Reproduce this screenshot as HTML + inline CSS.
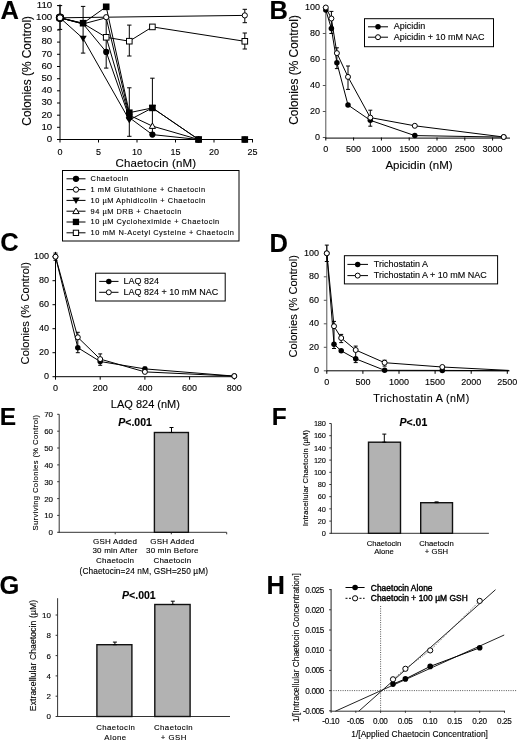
<!DOCTYPE html>
<html><head><meta charset="utf-8"><style>
html,body{margin:0;padding:0;background:#fff;width:520px;height:742px;overflow:hidden}
svg{display:block;filter:blur(0.3px)}
text{font-family:"Liberation Sans", sans-serif;stroke:#000;stroke-width:0.12px;paint-order:stroke}
</style></head><body>
<svg width="520" height="742" viewBox="0 0 520 742" font-family='"Liberation Sans", sans-serif'>
<rect width="520" height="742" fill="#fff"/>
<text x="0.4" y="18.6" font-size="25.5" text-anchor="start" font-weight="bold" stroke-width="0" >A</text>
<line x1="60.0" y1="4.4" x2="60.0" y2="140.0" stroke="#000" stroke-width="1" />
<line x1="59.5" y1="139.5" x2="253.0" y2="139.5" stroke="#000" stroke-width="1" />
<line x1="57.0" y1="139.5" x2="60.0" y2="139.5" stroke="#000" stroke-width="1" />
<text x="52.2" y="141.8" font-size="9.7" text-anchor="end" >0</text>
<line x1="57.0" y1="127.3" x2="60.0" y2="127.3" stroke="#000" stroke-width="1" />
<text x="52.2" y="129.6" font-size="9.7" text-anchor="end" >10</text>
<line x1="57.0" y1="115.2" x2="60.0" y2="115.2" stroke="#000" stroke-width="1" />
<text x="52.2" y="117.5" font-size="9.7" text-anchor="end" >20</text>
<line x1="57.0" y1="103.0" x2="60.0" y2="103.0" stroke="#000" stroke-width="1" />
<text x="52.2" y="105.3" font-size="9.7" text-anchor="end" >30</text>
<line x1="57.0" y1="90.8" x2="60.0" y2="90.8" stroke="#000" stroke-width="1" />
<text x="52.2" y="93.1" font-size="9.7" text-anchor="end" >40</text>
<line x1="57.0" y1="78.7" x2="60.0" y2="78.7" stroke="#000" stroke-width="1" />
<text x="52.2" y="81.0" font-size="9.7" text-anchor="end" >50</text>
<line x1="57.0" y1="66.5" x2="60.0" y2="66.5" stroke="#000" stroke-width="1" />
<text x="52.2" y="68.8" font-size="9.7" text-anchor="end" >60</text>
<line x1="57.0" y1="54.3" x2="60.0" y2="54.3" stroke="#000" stroke-width="1" />
<text x="52.2" y="56.6" font-size="9.7" text-anchor="end" >70</text>
<line x1="57.0" y1="42.1" x2="60.0" y2="42.1" stroke="#000" stroke-width="1" />
<text x="52.2" y="44.4" font-size="9.7" text-anchor="end" >80</text>
<line x1="57.0" y1="30.0" x2="60.0" y2="30.0" stroke="#000" stroke-width="1" />
<text x="52.2" y="32.3" font-size="9.7" text-anchor="end" >90</text>
<line x1="57.0" y1="17.8" x2="60.0" y2="17.8" stroke="#000" stroke-width="1" />
<text x="52.2" y="20.1" font-size="9.7" text-anchor="end" >100</text>
<line x1="57.0" y1="5.6" x2="60.0" y2="5.6" stroke="#000" stroke-width="1" />
<text x="52.2" y="7.9" font-size="9.7" text-anchor="end" >110</text>
<line x1="60.0" y1="139.5" x2="60.0" y2="142.5" stroke="#000" stroke-width="1" />
<text x="60.0" y="154.5" font-size="9" text-anchor="middle" >0</text>
<line x1="98.5" y1="139.5" x2="98.5" y2="142.5" stroke="#000" stroke-width="1" />
<text x="98.5" y="154.5" font-size="9" text-anchor="middle" >5</text>
<line x1="137.0" y1="139.5" x2="137.0" y2="142.5" stroke="#000" stroke-width="1" />
<text x="137.0" y="154.5" font-size="9" text-anchor="middle" >10</text>
<line x1="175.5" y1="139.5" x2="175.5" y2="142.5" stroke="#000" stroke-width="1" />
<text x="175.5" y="154.5" font-size="9" text-anchor="middle" >15</text>
<line x1="214.0" y1="139.5" x2="214.0" y2="142.5" stroke="#000" stroke-width="1" />
<text x="214.0" y="154.5" font-size="9" text-anchor="middle" >20</text>
<line x1="252.5" y1="139.5" x2="252.5" y2="142.5" stroke="#000" stroke-width="1" />
<text x="252.5" y="154.5" font-size="9" text-anchor="middle" >25</text>
<text x="155.8" y="166.5" font-size="11.5" text-anchor="middle" letter-spacing="0.15" stroke-width="0" >Chaetocin (nM)</text>
<text x="30.8" y="70.8" font-size="11.9" text-anchor="middle" stroke-width="0" transform="rotate(-90 30.8 70.8)" >Colonies (% Control)</text>
<line x1="60.0" y1="5.6" x2="60.0" y2="29.4" stroke="#000" stroke-width="1" />
<line x1="57.8" y1="5.6" x2="62.2" y2="5.6" stroke="#000" stroke-width="1" />
<line x1="57.8" y1="29.4" x2="62.2" y2="29.4" stroke="#000" stroke-width="1" />
<line x1="83.1" y1="6.4" x2="83.1" y2="53.1" stroke="#000" stroke-width="1" />
<line x1="80.9" y1="6.4" x2="85.3" y2="6.4" stroke="#000" stroke-width="1" />
<line x1="80.9" y1="53.1" x2="85.3" y2="53.1" stroke="#000" stroke-width="1" />
<line x1="106.2" y1="15.4" x2="106.2" y2="68.1" stroke="#000" stroke-width="1" />
<line x1="104.0" y1="15.4" x2="108.4" y2="15.4" stroke="#000" stroke-width="1" />
<line x1="104.0" y1="68.1" x2="108.4" y2="68.1" stroke="#000" stroke-width="1" />
<line x1="129.3" y1="25.1" x2="129.3" y2="56.0" stroke="#000" stroke-width="1" />
<line x1="127.1" y1="25.1" x2="131.5" y2="25.1" stroke="#000" stroke-width="1" />
<line x1="127.1" y1="56.0" x2="131.5" y2="56.0" stroke="#000" stroke-width="1" />
<line x1="129.3" y1="87.8" x2="129.3" y2="136.3" stroke="#000" stroke-width="1" />
<line x1="127.1" y1="87.8" x2="131.5" y2="87.8" stroke="#000" stroke-width="1" />
<line x1="127.1" y1="136.3" x2="131.5" y2="136.3" stroke="#000" stroke-width="1" />
<line x1="152.4" y1="78.2" x2="152.4" y2="134.6" stroke="#000" stroke-width="1" />
<line x1="150.2" y1="78.2" x2="154.6" y2="78.2" stroke="#000" stroke-width="1" />
<line x1="150.2" y1="134.6" x2="154.6" y2="134.6" stroke="#000" stroke-width="1" />
<line x1="244.8" y1="9.3" x2="244.8" y2="22.7" stroke="#000" stroke-width="1" />
<line x1="242.6" y1="9.3" x2="247.0" y2="9.3" stroke="#000" stroke-width="1" />
<line x1="242.6" y1="22.7" x2="247.0" y2="22.7" stroke="#000" stroke-width="1" />
<line x1="244.8" y1="33.0" x2="244.8" y2="49.0" stroke="#000" stroke-width="1" />
<line x1="242.6" y1="33.0" x2="247.0" y2="33.0" stroke="#000" stroke-width="1" />
<line x1="242.6" y1="49.0" x2="247.0" y2="49.0" stroke="#000" stroke-width="1" />
<polyline points="60.0,17.8 83.1,23.9 106.2,51.9 129.3,117.6 152.4,134.6 198.6,139.5 244.8,139.5" fill="none" stroke="#000" stroke-width="1" stroke-linejoin="round" />
<polyline points="60.0,17.8 106.2,17.2 244.8,15.4" fill="none" stroke="#000" stroke-width="1" stroke-linejoin="round" />
<polyline points="60.0,17.8 83.1,38.5 129.3,120.0 152.4,107.9 198.6,139.5" fill="none" stroke="#000" stroke-width="1" stroke-linejoin="round" />
<polyline points="60.0,17.8 83.1,23.9 106.2,17.8 129.3,115.2 152.4,126.1 198.6,139.5" fill="none" stroke="#000" stroke-width="1" stroke-linejoin="round" />
<polyline points="60.0,17.8 83.1,23.2 106.2,6.8 129.3,112.7 152.4,107.9 198.6,139.5 244.8,139.5" fill="none" stroke="#000" stroke-width="1" stroke-linejoin="round" />
<polyline points="60.0,17.8 83.1,23.5 106.2,37.3 129.3,41.2 152.4,26.9 244.8,41.3" fill="none" stroke="#000" stroke-width="1" stroke-linejoin="round" />
<line x1="106.2" y1="37.3" x2="129.3" y2="116.4" stroke="#000" stroke-width="1" />
<circle cx="129.3" cy="114.6" r="3.10" fill="#000"/>
<circle cx="60.0" cy="17.8" r="4.10" fill="#000"/>
<circle cx="106.2" cy="51.9" r="3.10" fill="#000"/>
<circle cx="129.3" cy="117.6" r="3.10" fill="#000"/>
<circle cx="152.4" cy="134.6" r="3.10" fill="#000"/>
<circle cx="198.6" cy="139.5" r="3.10" fill="#000"/>
<circle cx="244.8" cy="139.5" r="3.10" fill="#000"/>
<circle cx="60.0" cy="17.8" r="3.20" fill="#fff" stroke="#000" stroke-width="1"/>
<circle cx="106.2" cy="17.2" r="2.60" fill="#fff" stroke="#000" stroke-width="1"/>
<circle cx="244.8" cy="15.4" r="2.60" fill="#fff" stroke="#000" stroke-width="1"/>
<path d="M56.4,15.0L63.6,15.0L60.0,21.2Z" fill="#000"/>
<path d="M79.5,35.7L86.7,35.7L83.1,41.9Z" fill="#000"/>
<path d="M125.7,117.2L132.9,117.2L129.3,123.4Z" fill="#000"/>
<path d="M148.8,105.1L156.0,105.1L152.4,111.3Z" fill="#000"/>
<path d="M195.0,136.7L202.2,136.7L198.6,142.9Z" fill="#000"/>
<path d="M56.9,20.1L63.1,20.1L60.0,14.7Z" fill="#fff" stroke="#000" stroke-width="1"/>
<path d="M149.3,128.4L155.5,128.4L152.4,123.0Z" fill="#fff" stroke="#000" stroke-width="1"/>
<path d="M195.5,141.8L201.7,141.8L198.6,136.4Z" fill="#fff" stroke="#000" stroke-width="1"/>
<rect x="56.7" y="14.5" width="6.6" height="6.6" fill="#000"/>
<rect x="79.8" y="19.9" width="6.6" height="6.6" fill="#000"/>
<rect x="102.9" y="3.5" width="6.6" height="6.6" fill="#000"/>
<rect x="126.0" y="109.4" width="6.6" height="6.6" fill="#000"/>
<rect x="149.1" y="104.6" width="6.6" height="6.6" fill="#000"/>
<rect x="195.3" y="136.2" width="6.6" height="6.6" fill="#000"/>
<rect x="241.5" y="136.2" width="6.6" height="6.6" fill="#000"/>
<rect x="103.4" y="34.5" width="5.6" height="5.6" fill="#fff" stroke="#000" stroke-width="1"/>
<rect x="126.5" y="38.4" width="5.6" height="5.6" fill="#fff" stroke="#000" stroke-width="1"/>
<rect x="149.6" y="24.1" width="5.6" height="5.6" fill="#fff" stroke="#000" stroke-width="1"/>
<rect x="242.0" y="38.5" width="5.6" height="5.6" fill="#fff" stroke="#000" stroke-width="1"/>
<circle cx="60.0" cy="17.8" r="4.20" fill="#000"/>
<circle cx="60.0" cy="17.8" r="3.00" fill="#fff" stroke="#000" stroke-width="1"/>
<rect x="62.5" y="170.5" width="176.5" height="70.5" fill="none" stroke="#000" stroke-width="1"/>
<line x1="66.5" y1="178.8" x2="85.5" y2="178.8" stroke="#000" stroke-width="1" />
<circle cx="76.0" cy="178.8" r="3.15" fill="#000"/>
<text x="90.5" y="181.1" font-size="7.4" text-anchor="start" letter-spacing="0.54" >Chaetocin</text>
<line x1="66.5" y1="189.6" x2="85.5" y2="189.6" stroke="#000" stroke-width="1" />
<circle cx="76.0" cy="189.6" r="2.65" fill="#fff" stroke="#000" stroke-width="1"/>
<text x="90.5" y="191.9" font-size="7.4" text-anchor="start" letter-spacing="0.54" >1 mM Glutathione + Chaetocin</text>
<line x1="66.5" y1="200.4" x2="85.5" y2="200.4" stroke="#000" stroke-width="1" />
<path d="M72.3,197.6L79.7,197.6L76.0,203.9Z" fill="#000"/>
<text x="90.5" y="202.7" font-size="7.4" text-anchor="start" letter-spacing="0.54" >10 µM Aphidicolin + Chaetocin</text>
<line x1="66.5" y1="211.2" x2="85.5" y2="211.2" stroke="#000" stroke-width="1" />
<path d="M72.8,213.6L79.2,213.6L76.0,208.1Z" fill="#fff" stroke="#000" stroke-width="1"/>
<text x="90.5" y="213.5" font-size="7.4" text-anchor="start" letter-spacing="0.54" >94 µM DRB + Chaetocin</text>
<line x1="66.5" y1="222.0" x2="85.5" y2="222.0" stroke="#000" stroke-width="1" />
<rect x="72.8" y="218.8" width="6.3" height="6.3" fill="#000"/>
<text x="90.5" y="224.3" font-size="7.4" text-anchor="start" letter-spacing="0.54" >10 µM Cycloheximide + Chaetocin</text>
<line x1="66.5" y1="232.8" x2="85.5" y2="232.8" stroke="#000" stroke-width="1" />
<rect x="73.3" y="230.2" width="5.3" height="5.3" fill="#fff" stroke="#000" stroke-width="1"/>
<text x="90.5" y="235.1" font-size="7.4" text-anchor="start" letter-spacing="0.54" >10 mM N-Acetyl Cysteine + Chaetocin</text>
<text x="269.6" y="18.6" font-size="25.5" text-anchor="start" font-weight="bold" stroke-width="0" >B</text>
<line x1="325.8" y1="6.2" x2="325.8" y2="138.0" stroke="#555" stroke-width="1" />
<line x1="325.3" y1="138.1" x2="510.0" y2="138.1" stroke="#000" stroke-width="1" />
<line x1="322.8" y1="137.5" x2="325.8" y2="137.5" stroke="#555" stroke-width="1" />
<text x="320.0" y="140.0" font-size="9" text-anchor="end" >0</text>
<line x1="322.8" y1="111.5" x2="325.8" y2="111.5" stroke="#555" stroke-width="1" />
<text x="320.0" y="114.0" font-size="9" text-anchor="end" >20</text>
<line x1="322.8" y1="85.5" x2="325.8" y2="85.5" stroke="#555" stroke-width="1" />
<text x="320.0" y="88.0" font-size="9" text-anchor="end" >40</text>
<line x1="322.8" y1="59.5" x2="325.8" y2="59.5" stroke="#555" stroke-width="1" />
<text x="320.0" y="62.0" font-size="9" text-anchor="end" >60</text>
<line x1="322.8" y1="33.5" x2="325.8" y2="33.5" stroke="#555" stroke-width="1" />
<text x="320.0" y="36.0" font-size="9" text-anchor="end" >80</text>
<line x1="322.8" y1="7.5" x2="325.8" y2="7.5" stroke="#555" stroke-width="1" />
<text x="320.0" y="10.0" font-size="9" text-anchor="end" >100</text>
<line x1="325.8" y1="137.5" x2="325.8" y2="140.5" stroke="#000" stroke-width="1" />
<text x="325.8" y="152.0" font-size="9" text-anchor="middle" >0</text>
<line x1="353.6" y1="137.5" x2="353.6" y2="140.5" stroke="#000" stroke-width="1" />
<text x="353.6" y="152.0" font-size="9" text-anchor="middle" >500</text>
<line x1="381.4" y1="137.5" x2="381.4" y2="140.5" stroke="#000" stroke-width="1" />
<text x="381.4" y="152.0" font-size="9" text-anchor="middle" >1000</text>
<line x1="409.2" y1="137.5" x2="409.2" y2="140.5" stroke="#000" stroke-width="1" />
<text x="409.2" y="152.0" font-size="9" text-anchor="middle" >1500</text>
<line x1="437.0" y1="137.5" x2="437.0" y2="140.5" stroke="#000" stroke-width="1" />
<text x="437.0" y="152.0" font-size="9" text-anchor="middle" >2000</text>
<line x1="464.8" y1="137.5" x2="464.8" y2="140.5" stroke="#000" stroke-width="1" />
<text x="464.8" y="152.0" font-size="9" text-anchor="middle" >2500</text>
<line x1="492.6" y1="137.5" x2="492.6" y2="140.5" stroke="#000" stroke-width="1" />
<text x="492.6" y="152.0" font-size="9" text-anchor="middle" >3000</text>
<text x="419.0" y="168.8" font-size="11.5" text-anchor="middle" stroke-width="0" >Apicidin (nM)</text>
<text x="297.8" y="70.0" font-size="11.9" text-anchor="middle" stroke-width="0" transform="rotate(-90 297.8 70.0)" >Colonies (% Control)</text>
<line x1="331.4" y1="11.4" x2="331.4" y2="33.5" stroke="#000" stroke-width="1" />
<line x1="329.4" y1="11.4" x2="333.4" y2="11.4" stroke="#000" stroke-width="1" />
<line x1="329.4" y1="33.5" x2="333.4" y2="33.5" stroke="#000" stroke-width="1" />
<line x1="336.9" y1="47.8" x2="336.9" y2="68.6" stroke="#000" stroke-width="1" />
<line x1="334.9" y1="47.8" x2="338.9" y2="47.8" stroke="#000" stroke-width="1" />
<line x1="334.9" y1="68.6" x2="338.9" y2="68.6" stroke="#000" stroke-width="1" />
<line x1="348.0" y1="66.0" x2="348.0" y2="89.4" stroke="#000" stroke-width="1" />
<line x1="346.0" y1="66.0" x2="350.0" y2="66.0" stroke="#000" stroke-width="1" />
<line x1="346.0" y1="89.4" x2="350.0" y2="89.4" stroke="#000" stroke-width="1" />
<line x1="370.3" y1="110.2" x2="370.3" y2="126.2" stroke="#000" stroke-width="1" />
<line x1="368.3" y1="110.2" x2="372.3" y2="110.2" stroke="#000" stroke-width="1" />
<line x1="368.3" y1="126.2" x2="372.3" y2="126.2" stroke="#000" stroke-width="1" />
<polyline points="325.8,10.1 331.4,28.6 336.9,62.8 348.0,105.0 370.3,120.3 414.8,135.6 503.7,137.1" fill="none" stroke="#000" stroke-width="1" stroke-linejoin="round" />
<polyline points="325.8,7.5 331.4,18.5 336.9,53.1 348.0,76.9 370.3,117.6 414.8,125.8 503.7,137.0" fill="none" stroke="#000" stroke-width="1" stroke-linejoin="round" />
<circle cx="325.8" cy="10.1" r="2.75" fill="#000"/>
<circle cx="331.4" cy="28.6" r="2.75" fill="#000"/>
<circle cx="336.9" cy="62.8" r="2.75" fill="#000"/>
<circle cx="348.0" cy="105.0" r="2.75" fill="#000"/>
<circle cx="370.3" cy="120.3" r="2.75" fill="#000"/>
<circle cx="414.8" cy="135.6" r="2.75" fill="#000"/>
<circle cx="503.7" cy="137.1" r="2.75" fill="#000"/>
<circle cx="325.8" cy="7.5" r="2.50" fill="#fff" stroke="#000" stroke-width="1"/>
<circle cx="331.4" cy="18.5" r="2.50" fill="#fff" stroke="#000" stroke-width="1"/>
<circle cx="336.9" cy="53.1" r="2.50" fill="#fff" stroke="#000" stroke-width="1"/>
<circle cx="348.0" cy="76.9" r="2.50" fill="#fff" stroke="#000" stroke-width="1"/>
<circle cx="370.3" cy="117.6" r="2.50" fill="#fff" stroke="#000" stroke-width="1"/>
<circle cx="414.8" cy="125.8" r="2.50" fill="#fff" stroke="#000" stroke-width="1"/>
<circle cx="503.7" cy="137.0" r="2.50" fill="#fff" stroke="#000" stroke-width="1"/>
<rect x="364.5" y="18.7" width="129.0" height="28.0" fill="none" stroke="#000" stroke-width="1"/>
<line x1="368.0" y1="26.8" x2="388.0" y2="26.8" stroke="#000" stroke-width="1" />
<circle cx="378.0" cy="26.8" r="2.75" fill="#000"/>
<text x="393.8" y="29.1" font-size="9" text-anchor="start" >Apicidin</text>
<line x1="368.0" y1="37.2" x2="388.0" y2="37.2" stroke="#000" stroke-width="1" />
<circle cx="378.0" cy="37.2" r="2.50" fill="#fff" stroke="#000" stroke-width="1"/>
<text x="393.8" y="39.5" font-size="9" text-anchor="start" >Apicidin + 10 mM NAC</text>
<text x="0.2" y="251.3" font-size="25.5" text-anchor="start" font-weight="bold" stroke-width="0" >C</text>
<line x1="55.5" y1="251.9" x2="55.5" y2="377.2" stroke="#000" stroke-width="1" />
<line x1="55.0" y1="376.7" x2="235.3" y2="376.7" stroke="#000" stroke-width="1" />
<line x1="52.5" y1="376.7" x2="55.5" y2="376.7" stroke="#000" stroke-width="1" />
<text x="49.0" y="379.1" font-size="9" text-anchor="end" >0</text>
<line x1="52.5" y1="352.7" x2="55.5" y2="352.7" stroke="#000" stroke-width="1" />
<text x="49.0" y="355.1" font-size="9" text-anchor="end" >20</text>
<line x1="52.5" y1="328.7" x2="55.5" y2="328.7" stroke="#000" stroke-width="1" />
<text x="49.0" y="331.1" font-size="9" text-anchor="end" >40</text>
<line x1="52.5" y1="304.7" x2="55.5" y2="304.7" stroke="#000" stroke-width="1" />
<text x="49.0" y="307.1" font-size="9" text-anchor="end" >60</text>
<line x1="52.5" y1="280.7" x2="55.5" y2="280.7" stroke="#000" stroke-width="1" />
<text x="49.0" y="283.1" font-size="9" text-anchor="end" >80</text>
<line x1="52.5" y1="256.7" x2="55.5" y2="256.7" stroke="#000" stroke-width="1" />
<text x="49.0" y="259.1" font-size="9" text-anchor="end" >100</text>
<line x1="55.5" y1="376.7" x2="55.5" y2="379.7" stroke="#000" stroke-width="1" />
<text x="55.5" y="391.0" font-size="9" text-anchor="middle" >0</text>
<line x1="100.2" y1="376.7" x2="100.2" y2="379.7" stroke="#000" stroke-width="1" />
<text x="100.2" y="391.0" font-size="9" text-anchor="middle" >200</text>
<line x1="144.9" y1="376.7" x2="144.9" y2="379.7" stroke="#000" stroke-width="1" />
<text x="144.9" y="391.0" font-size="9" text-anchor="middle" >400</text>
<line x1="189.6" y1="376.7" x2="189.6" y2="379.7" stroke="#000" stroke-width="1" />
<text x="189.6" y="391.0" font-size="9" text-anchor="middle" >600</text>
<line x1="234.3" y1="376.7" x2="234.3" y2="379.7" stroke="#000" stroke-width="1" />
<text x="234.3" y="391.0" font-size="9" text-anchor="middle" >800</text>
<text x="145.4" y="408.0" font-size="11" text-anchor="middle" stroke-width="0" >LAQ 824 (nM)</text>
<text x="29.3" y="313.2" font-size="11.1" text-anchor="middle" stroke-width="0" transform="rotate(-90 29.3 313.2)" >Colonies (% Control)</text>
<line x1="55.5" y1="253.1" x2="55.5" y2="260.3" stroke="#000" stroke-width="1" />
<line x1="53.5" y1="253.1" x2="57.5" y2="253.1" stroke="#000" stroke-width="1" />
<line x1="53.5" y1="260.3" x2="57.5" y2="260.3" stroke="#000" stroke-width="1" />
<line x1="77.8" y1="332.3" x2="77.8" y2="352.7" stroke="#000" stroke-width="1" />
<line x1="75.8" y1="332.3" x2="79.8" y2="332.3" stroke="#000" stroke-width="1" />
<line x1="75.8" y1="352.7" x2="79.8" y2="352.7" stroke="#000" stroke-width="1" />
<line x1="100.2" y1="353.9" x2="100.2" y2="365.3" stroke="#000" stroke-width="1" />
<line x1="98.2" y1="353.9" x2="102.2" y2="353.9" stroke="#000" stroke-width="1" />
<line x1="98.2" y1="365.3" x2="102.2" y2="365.3" stroke="#000" stroke-width="1" />
<line x1="144.9" y1="367.1" x2="144.9" y2="373.1" stroke="#000" stroke-width="1" />
<line x1="142.9" y1="367.1" x2="146.9" y2="367.1" stroke="#000" stroke-width="1" />
<line x1="142.9" y1="373.1" x2="146.9" y2="373.1" stroke="#000" stroke-width="1" />
<polyline points="55.5,256.7 77.8,347.7 100.2,361.5 144.9,368.9 234.3,376.1" fill="none" stroke="#000" stroke-width="1" stroke-linejoin="round" />
<polyline points="55.5,256.7 77.8,337.3 100.2,359.1 144.9,371.9 234.3,376.1" fill="none" stroke="#000" stroke-width="1" stroke-linejoin="round" />
<circle cx="55.5" cy="256.7" r="2.75" fill="#000"/>
<circle cx="77.8" cy="347.7" r="2.75" fill="#000"/>
<circle cx="100.2" cy="361.5" r="2.75" fill="#000"/>
<circle cx="144.9" cy="368.9" r="2.75" fill="#000"/>
<circle cx="234.3" cy="376.1" r="2.75" fill="#000"/>
<circle cx="55.5" cy="256.7" r="2.50" fill="#fff" stroke="#000" stroke-width="1"/>
<circle cx="77.8" cy="337.3" r="2.50" fill="#fff" stroke="#000" stroke-width="1"/>
<circle cx="100.2" cy="359.1" r="2.50" fill="#fff" stroke="#000" stroke-width="1"/>
<circle cx="144.9" cy="371.9" r="2.50" fill="#fff" stroke="#000" stroke-width="1"/>
<circle cx="234.3" cy="376.1" r="2.50" fill="#fff" stroke="#000" stroke-width="1"/>
<rect x="95.6" y="273.2" width="129.6" height="27.8" fill="none" stroke="#000" stroke-width="1"/>
<line x1="99.2" y1="281.4" x2="118.5" y2="281.4" stroke="#000" stroke-width="1" />
<circle cx="108.8" cy="281.4" r="2.75" fill="#000"/>
<text x="123.4" y="283.6" font-size="9" text-anchor="start" >LAQ 824</text>
<line x1="99.2" y1="292.3" x2="118.5" y2="292.3" stroke="#000" stroke-width="1" />
<circle cx="108.8" cy="292.3" r="2.50" fill="#fff" stroke="#000" stroke-width="1"/>
<text x="123.4" y="294.6" font-size="9" text-anchor="start" >LAQ 824 + 10 mM NAC</text>
<text x="269.6" y="251.5" font-size="25.5" text-anchor="start" font-weight="bold" stroke-width="0" >D</text>
<line x1="326.8" y1="245.1" x2="326.8" y2="371.3" stroke="#555" stroke-width="1" />
<line x1="326.3" y1="370.8" x2="509.5" y2="370.8" stroke="#000" stroke-width="1" />
<line x1="323.8" y1="370.8" x2="326.8" y2="370.8" stroke="#555" stroke-width="1" />
<text x="319.0" y="373.3" font-size="9" text-anchor="end" >0</text>
<line x1="323.8" y1="347.3" x2="326.8" y2="347.3" stroke="#555" stroke-width="1" />
<text x="319.0" y="349.8" font-size="9" text-anchor="end" >20</text>
<line x1="323.8" y1="323.8" x2="326.8" y2="323.8" stroke="#555" stroke-width="1" />
<text x="319.0" y="326.3" font-size="9" text-anchor="end" >40</text>
<line x1="323.8" y1="300.3" x2="326.8" y2="300.3" stroke="#555" stroke-width="1" />
<text x="319.0" y="302.8" font-size="9" text-anchor="end" >60</text>
<line x1="323.8" y1="276.8" x2="326.8" y2="276.8" stroke="#555" stroke-width="1" />
<text x="319.0" y="279.3" font-size="9" text-anchor="end" >80</text>
<line x1="323.8" y1="253.3" x2="326.8" y2="253.3" stroke="#555" stroke-width="1" />
<text x="319.0" y="255.8" font-size="9" text-anchor="end" >100</text>
<line x1="326.8" y1="370.8" x2="326.8" y2="373.8" stroke="#000" stroke-width="1" />
<text x="326.8" y="384.5" font-size="9" text-anchor="middle" >0</text>
<line x1="362.9" y1="370.8" x2="362.9" y2="373.8" stroke="#000" stroke-width="1" />
<text x="362.9" y="384.5" font-size="9" text-anchor="middle" >500</text>
<line x1="399.0" y1="370.8" x2="399.0" y2="373.8" stroke="#000" stroke-width="1" />
<text x="399.0" y="384.5" font-size="9" text-anchor="middle" >1000</text>
<line x1="435.1" y1="370.8" x2="435.1" y2="373.8" stroke="#000" stroke-width="1" />
<text x="435.1" y="384.5" font-size="9" text-anchor="middle" >1500</text>
<line x1="471.2" y1="370.8" x2="471.2" y2="373.8" stroke="#000" stroke-width="1" />
<text x="471.2" y="384.5" font-size="9" text-anchor="middle" >2000</text>
<line x1="507.3" y1="370.8" x2="507.3" y2="373.8" stroke="#000" stroke-width="1" />
<text x="507.3" y="384.5" font-size="9" text-anchor="middle" >2500</text>
<text x="421.5" y="402.0" font-size="10.7" text-anchor="middle" letter-spacing="0.4" stroke-width="0" >Trichostatin A (nM)</text>
<text x="297.3" y="306.3" font-size="11.1" text-anchor="middle" stroke-width="0" transform="rotate(-90 297.3 306.3)" >Colonies (% Control)</text>
<line x1="326.8" y1="245.1" x2="326.8" y2="261.5" stroke="#000" stroke-width="1" />
<line x1="324.8" y1="245.1" x2="328.8" y2="245.1" stroke="#000" stroke-width="1" />
<line x1="324.8" y1="261.5" x2="328.8" y2="261.5" stroke="#000" stroke-width="1" />
<line x1="334.0" y1="321.4" x2="334.0" y2="348.5" stroke="#000" stroke-width="1" />
<line x1="332.0" y1="321.4" x2="336.0" y2="321.4" stroke="#000" stroke-width="1" />
<line x1="332.0" y1="348.5" x2="336.0" y2="348.5" stroke="#000" stroke-width="1" />
<line x1="341.2" y1="334.4" x2="341.2" y2="342.6" stroke="#000" stroke-width="1" />
<line x1="339.2" y1="334.4" x2="343.2" y2="334.4" stroke="#000" stroke-width="1" />
<line x1="339.2" y1="342.6" x2="343.2" y2="342.6" stroke="#000" stroke-width="1" />
<line x1="355.7" y1="346.1" x2="355.7" y2="362.6" stroke="#000" stroke-width="1" />
<line x1="353.7" y1="346.1" x2="357.7" y2="346.1" stroke="#000" stroke-width="1" />
<line x1="353.7" y1="362.6" x2="357.7" y2="362.6" stroke="#000" stroke-width="1" />
<line x1="384.6" y1="360.2" x2="384.6" y2="366.1" stroke="#000" stroke-width="1" />
<line x1="382.6" y1="360.2" x2="386.6" y2="360.2" stroke="#000" stroke-width="1" />
<line x1="382.6" y1="366.1" x2="386.6" y2="366.1" stroke="#000" stroke-width="1" />
<polyline points="326.8,253.3 334.0,344.2 341.2,350.8 355.7,358.8 384.6,370.3 442.3,370.4 508.7,370.7" fill="none" stroke="#000" stroke-width="1" stroke-linejoin="round" />
<polyline points="326.8,253.3 334.0,326.2 341.2,338.0 355.7,350.0 384.6,362.7 442.3,367.0 508.7,370.4" fill="none" stroke="#000" stroke-width="1" stroke-linejoin="round" />
<circle cx="326.8" cy="253.3" r="2.75" fill="#000"/>
<circle cx="334.0" cy="344.2" r="2.75" fill="#000"/>
<circle cx="341.2" cy="350.8" r="2.75" fill="#000"/>
<circle cx="355.7" cy="358.8" r="2.75" fill="#000"/>
<circle cx="384.6" cy="370.3" r="2.75" fill="#000"/>
<circle cx="442.3" cy="370.4" r="2.75" fill="#000"/>
<circle cx="326.8" cy="253.3" r="2.50" fill="#fff" stroke="#000" stroke-width="1"/>
<circle cx="334.0" cy="326.2" r="2.50" fill="#fff" stroke="#000" stroke-width="1"/>
<circle cx="341.2" cy="338.0" r="2.50" fill="#fff" stroke="#000" stroke-width="1"/>
<circle cx="355.7" cy="350.0" r="2.50" fill="#fff" stroke="#000" stroke-width="1"/>
<circle cx="384.6" cy="362.7" r="2.50" fill="#fff" stroke="#000" stroke-width="1"/>
<circle cx="442.3" cy="367.0" r="2.50" fill="#fff" stroke="#000" stroke-width="1"/>
<rect x="344.4" y="255.7" width="153.2" height="28.2" fill="none" stroke="#000" stroke-width="1"/>
<line x1="347.4" y1="264.4" x2="368.0" y2="264.4" stroke="#000" stroke-width="1" />
<circle cx="357.7" cy="264.4" r="2.75" fill="#000"/>
<text x="373.8" y="266.6" font-size="9" text-anchor="start" >Trichostatin A</text>
<line x1="347.4" y1="275.6" x2="368.0" y2="275.6" stroke="#000" stroke-width="1" />
<circle cx="357.7" cy="275.6" r="2.50" fill="#fff" stroke="#000" stroke-width="1"/>
<text x="373.8" y="277.9" font-size="9" text-anchor="start" >Trichostatin A + 10 mM NAC</text>
<text x="-0.2" y="425.3" font-size="24.5" text-anchor="start" font-weight="bold" stroke-width="0" >E</text>
<line x1="59.2" y1="414.3" x2="59.2" y2="532.8" stroke="#333" stroke-width="1" />
<line x1="58.7" y1="532.3" x2="226.7" y2="532.3" stroke="#333" stroke-width="1" />
<line x1="57.2" y1="532.3" x2="59.2" y2="532.3" stroke="#333" stroke-width="1" />
<text x="52.8" y="535.2" font-size="8.0" text-anchor="end" letter-spacing="-0.2" >0</text>
<line x1="57.2" y1="515.4" x2="59.2" y2="515.4" stroke="#333" stroke-width="1" />
<text x="52.8" y="518.3" font-size="8.0" text-anchor="end" letter-spacing="-0.2" >10</text>
<line x1="57.2" y1="498.6" x2="59.2" y2="498.6" stroke="#333" stroke-width="1" />
<text x="52.8" y="501.5" font-size="8.0" text-anchor="end" letter-spacing="-0.2" >20</text>
<line x1="57.2" y1="481.7" x2="59.2" y2="481.7" stroke="#333" stroke-width="1" />
<text x="52.8" y="484.6" font-size="8.0" text-anchor="end" letter-spacing="-0.2" >30</text>
<line x1="57.2" y1="464.9" x2="59.2" y2="464.9" stroke="#333" stroke-width="1" />
<text x="52.8" y="467.8" font-size="8.0" text-anchor="end" letter-spacing="-0.2" >40</text>
<line x1="57.2" y1="448.0" x2="59.2" y2="448.0" stroke="#333" stroke-width="1" />
<text x="52.8" y="450.9" font-size="8.0" text-anchor="end" letter-spacing="-0.2" >50</text>
<line x1="57.2" y1="431.2" x2="59.2" y2="431.2" stroke="#333" stroke-width="1" />
<text x="52.8" y="434.1" font-size="8.0" text-anchor="end" letter-spacing="-0.2" >60</text>
<line x1="57.2" y1="414.3" x2="59.2" y2="414.3" stroke="#333" stroke-width="1" />
<text x="52.8" y="417.2" font-size="8.0" text-anchor="end" letter-spacing="-0.2" >70</text>
<line x1="115.2" y1="532.3" x2="115.2" y2="534.3" stroke="#333" stroke-width="1" />
<line x1="171.3" y1="532.3" x2="171.3" y2="534.3" stroke="#333" stroke-width="1" />
<line x1="226.7" y1="532.3" x2="226.7" y2="534.3" stroke="#333" stroke-width="1" />
<rect x="154.4" y="432.5" width="34.0" height="99.8" fill="#b2b2b2" stroke="#111" stroke-width="1.4"/>
<line x1="171.5" y1="427.5" x2="171.5" y2="432.5" stroke="#000" stroke-width="1" />
<line x1="169.5" y1="427.5" x2="173.5" y2="427.5" stroke="#000" stroke-width="1" />
<line x1="169.5" y1="432.5" x2="173.5" y2="432.5" stroke="#000" stroke-width="1" />
<text x="118.3" y="425.8" font-size="10.5" text-anchor="start" font-weight="bold" stroke-width="0" ><tspan font-style="italic">P</tspan>&lt;.001</text>
<text x="37.6" y="472.6" font-size="7.6" text-anchor="middle" letter-spacing="0.42" transform="rotate(-90 37.6 472.6)" >Surviving Colonies (% Control)</text>
<text x="115.1" y="544.0" font-size="8.0" text-anchor="middle" letter-spacing="0.22" >GSH Added</text>
<text x="115.1" y="553.4" font-size="8.0" text-anchor="middle" letter-spacing="0.22" >30 min After</text>
<text x="115.1" y="562.8" font-size="8.0" text-anchor="middle" letter-spacing="0.22" >Chaetocin</text>
<text x="172.4" y="544.0" font-size="8.0" text-anchor="middle" letter-spacing="0.22" >GSH Added</text>
<text x="172.4" y="553.4" font-size="8.0" text-anchor="middle" letter-spacing="0.22" >30 min Before</text>
<text x="172.4" y="562.8" font-size="8.0" text-anchor="middle" letter-spacing="0.22" >Chaetocin</text>
<text x="143.8" y="574.2" font-size="8.3" text-anchor="middle" letter-spacing="0.08" >(Chaetocin=24 nM, GSH=250 µM)</text>
<text x="271.8" y="425.3" font-size="24.5" text-anchor="start" font-weight="bold" stroke-width="0" >F</text>
<line x1="331.3" y1="423.5" x2="331.3" y2="533.8" stroke="#333" stroke-width="1" />
<line x1="330.8" y1="533.3" x2="488.9" y2="533.3" stroke="#333" stroke-width="1" />
<line x1="329.3" y1="533.3" x2="331.3" y2="533.3" stroke="#333" stroke-width="1" />
<text x="325.5" y="536.0" font-size="7.4" text-anchor="end" letter-spacing="-0.25" >0</text>
<line x1="329.3" y1="521.1" x2="331.3" y2="521.1" stroke="#333" stroke-width="1" />
<text x="325.5" y="523.8" font-size="7.4" text-anchor="end" letter-spacing="-0.25" >20</text>
<line x1="329.3" y1="508.9" x2="331.3" y2="508.9" stroke="#333" stroke-width="1" />
<text x="325.5" y="511.6" font-size="7.4" text-anchor="end" letter-spacing="-0.25" >40</text>
<line x1="329.3" y1="496.7" x2="331.3" y2="496.7" stroke="#333" stroke-width="1" />
<text x="325.5" y="499.4" font-size="7.4" text-anchor="end" letter-spacing="-0.25" >60</text>
<line x1="329.3" y1="484.5" x2="331.3" y2="484.5" stroke="#333" stroke-width="1" />
<text x="325.5" y="487.2" font-size="7.4" text-anchor="end" letter-spacing="-0.25" >80</text>
<line x1="329.3" y1="472.3" x2="331.3" y2="472.3" stroke="#333" stroke-width="1" />
<text x="325.5" y="475.0" font-size="7.4" text-anchor="end" letter-spacing="-0.25" >100</text>
<line x1="329.3" y1="460.1" x2="331.3" y2="460.1" stroke="#333" stroke-width="1" />
<text x="325.5" y="462.8" font-size="7.4" text-anchor="end" letter-spacing="-0.25" >120</text>
<line x1="329.3" y1="447.9" x2="331.3" y2="447.9" stroke="#333" stroke-width="1" />
<text x="325.5" y="450.6" font-size="7.4" text-anchor="end" letter-spacing="-0.25" >140</text>
<line x1="329.3" y1="435.7" x2="331.3" y2="435.7" stroke="#333" stroke-width="1" />
<text x="325.5" y="438.4" font-size="7.4" text-anchor="end" letter-spacing="-0.25" >160</text>
<line x1="329.3" y1="423.5" x2="331.3" y2="423.5" stroke="#333" stroke-width="1" />
<text x="325.5" y="426.2" font-size="7.4" text-anchor="end" letter-spacing="-0.25" >180</text>
<rect x="368.5" y="442.2" width="32.0" height="91.1" fill="#b2b2b2" stroke="#111" stroke-width="1.4"/>
<rect x="420.7" y="502.7" width="31.8" height="30.6" fill="#b2b2b2" stroke="#111" stroke-width="1.4"/>
<line x1="384.3" y1="434.1" x2="384.3" y2="442.2" stroke="#000" stroke-width="1" />
<line x1="382.3" y1="434.1" x2="386.3" y2="434.1" stroke="#000" stroke-width="1" />
<line x1="382.3" y1="442.2" x2="386.3" y2="442.2" stroke="#000" stroke-width="1" />
<line x1="436.6" y1="501.9" x2="436.6" y2="502.7" stroke="#000" stroke-width="1" />
<line x1="434.6" y1="501.9" x2="438.6" y2="501.9" stroke="#000" stroke-width="1" />
<line x1="434.6" y1="502.7" x2="438.6" y2="502.7" stroke="#000" stroke-width="1" />
<text x="399.5" y="426.0" font-size="10.5" text-anchor="start" font-weight="bold" stroke-width="0" ><tspan font-style="italic">P</tspan>&lt;.01</text>
<text x="308.0" y="478.0" font-size="7.7" text-anchor="middle" letter-spacing="0.06" transform="rotate(-90 308.0 478.0)" >Intracellular Chaetocin (µM)</text>
<text x="384.0" y="545.8" font-size="7.7" text-anchor="middle" >Chaetocin</text>
<text x="384.0" y="554.4" font-size="7.7" text-anchor="middle" >Alone</text>
<text x="436.5" y="545.8" font-size="7.7" text-anchor="middle" >Chaetocin</text>
<text x="436.5" y="554.4" font-size="7.7" text-anchor="middle" >+ GSH</text>
<text x="-0.4" y="593.6" font-size="25.5" text-anchor="start" font-weight="bold" stroke-width="0" >G</text>
<line x1="57.6" y1="598.2" x2="57.6" y2="717.0" stroke="#333" stroke-width="1" />
<line x1="57.1" y1="716.5" x2="230.0" y2="716.5" stroke="#333" stroke-width="1" />
<line x1="55.6" y1="716.5" x2="57.6" y2="716.5" stroke="#333" stroke-width="1" />
<text x="50.8" y="719.4" font-size="8.0" text-anchor="end" letter-spacing="-0.1" >0</text>
<line x1="55.6" y1="696.2" x2="57.6" y2="696.2" stroke="#333" stroke-width="1" />
<text x="50.8" y="699.1" font-size="8.0" text-anchor="end" letter-spacing="-0.1" >2</text>
<line x1="55.6" y1="675.9" x2="57.6" y2="675.9" stroke="#333" stroke-width="1" />
<text x="50.8" y="678.8" font-size="8.0" text-anchor="end" letter-spacing="-0.1" >4</text>
<line x1="55.6" y1="655.6" x2="57.6" y2="655.6" stroke="#333" stroke-width="1" />
<text x="50.8" y="658.5" font-size="8.0" text-anchor="end" letter-spacing="-0.1" >6</text>
<line x1="55.6" y1="635.3" x2="57.6" y2="635.3" stroke="#333" stroke-width="1" />
<text x="50.8" y="638.2" font-size="8.0" text-anchor="end" letter-spacing="-0.1" >8</text>
<line x1="55.6" y1="615.0" x2="57.6" y2="615.0" stroke="#333" stroke-width="1" />
<text x="50.8" y="617.9" font-size="8.0" text-anchor="end" letter-spacing="-0.1" >10</text>
<rect x="96.9" y="644.7" width="35.0" height="71.8" fill="#b2b2b2" stroke="#111" stroke-width="1.4"/>
<rect x="154.8" y="604.5" width="35.3" height="112.0" fill="#b2b2b2" stroke="#111" stroke-width="1.4"/>
<line x1="114.9" y1="642.1" x2="114.9" y2="644.7" stroke="#000" stroke-width="1" />
<line x1="112.9" y1="642.1" x2="116.9" y2="642.1" stroke="#000" stroke-width="1" />
<line x1="112.9" y1="644.7" x2="116.9" y2="644.7" stroke="#000" stroke-width="1" />
<line x1="172.8" y1="601.2" x2="172.8" y2="604.5" stroke="#000" stroke-width="1" />
<line x1="170.8" y1="601.2" x2="174.8" y2="601.2" stroke="#000" stroke-width="1" />
<line x1="170.8" y1="604.5" x2="174.8" y2="604.5" stroke="#000" stroke-width="1" />
<text x="122.1" y="598.6" font-size="10.5" text-anchor="start" font-weight="bold" stroke-width="0" ><tspan font-style="italic">P</tspan>&lt;.001</text>
<text x="36.0" y="655.5" font-size="8.6" text-anchor="middle" letter-spacing="0.1" transform="rotate(-90 36.0 655.5)" >Extracellular Chaetocin (µM)</text>
<text x="115.8" y="729.7" font-size="7.8" text-anchor="middle" letter-spacing="0.45" >Chaetocin</text>
<text x="115.4" y="740.2" font-size="7.8" text-anchor="middle" letter-spacing="0.45" >Alone</text>
<text x="173.6" y="729.7" font-size="7.8" text-anchor="middle" letter-spacing="0.45" >Chaetocin</text>
<text x="173.8" y="740.2" font-size="7.8" text-anchor="middle" letter-spacing="0.45" >+ GSH</text>
<text x="266.6" y="593.5" font-size="25.5" text-anchor="start" font-weight="bold" stroke-width="0" >H</text>
<line x1="331.1" y1="589.1" x2="331.1" y2="711.3" stroke="#555" stroke-width="1.3" />
<line x1="330.6" y1="711.2" x2="504.5" y2="711.2" stroke="#333" stroke-width="1" />
<line x1="329.1" y1="710.8" x2="331.1" y2="710.8" stroke="#333" stroke-width="1" />
<text x="324.0" y="713.7" font-size="8.2" text-anchor="end" letter-spacing="-0.35" >-0.005</text>
<line x1="329.1" y1="690.6" x2="331.1" y2="690.6" stroke="#333" stroke-width="1" />
<text x="324.0" y="693.5" font-size="8.2" text-anchor="end" letter-spacing="-0.35" >0.000</text>
<line x1="329.1" y1="670.4" x2="331.1" y2="670.4" stroke="#333" stroke-width="1" />
<text x="324.0" y="673.3" font-size="8.2" text-anchor="end" letter-spacing="-0.35" >0.005</text>
<line x1="329.1" y1="650.2" x2="331.1" y2="650.2" stroke="#333" stroke-width="1" />
<text x="324.0" y="653.1" font-size="8.2" text-anchor="end" letter-spacing="-0.35" >0.010</text>
<line x1="329.1" y1="630.0" x2="331.1" y2="630.0" stroke="#333" stroke-width="1" />
<text x="324.0" y="632.9" font-size="8.2" text-anchor="end" letter-spacing="-0.35" >0.015</text>
<line x1="329.1" y1="609.8" x2="331.1" y2="609.8" stroke="#333" stroke-width="1" />
<text x="324.0" y="612.7" font-size="8.2" text-anchor="end" letter-spacing="-0.35" >0.020</text>
<line x1="329.1" y1="589.6" x2="331.1" y2="589.6" stroke="#333" stroke-width="1" />
<text x="324.0" y="592.5" font-size="8.2" text-anchor="end" letter-spacing="-0.35" >0.025</text>
<line x1="331.1" y1="710.8" x2="331.1" y2="712.8" stroke="#333" stroke-width="1" />
<text x="330.8" y="723.8" font-size="8.2" text-anchor="middle" letter-spacing="-0.35" >-0.10</text>
<line x1="355.8" y1="710.8" x2="355.8" y2="712.8" stroke="#333" stroke-width="1" />
<text x="355.5" y="723.8" font-size="8.2" text-anchor="middle" letter-spacing="-0.35" >-0.05</text>
<line x1="380.6" y1="710.8" x2="380.6" y2="712.8" stroke="#333" stroke-width="1" />
<text x="380.3" y="723.8" font-size="8.2" text-anchor="middle" letter-spacing="-0.35" >0.00</text>
<line x1="405.4" y1="710.8" x2="405.4" y2="712.8" stroke="#333" stroke-width="1" />
<text x="405.1" y="723.8" font-size="8.2" text-anchor="middle" letter-spacing="-0.35" >0.05</text>
<line x1="430.2" y1="710.8" x2="430.2" y2="712.8" stroke="#333" stroke-width="1" />
<text x="429.9" y="723.8" font-size="8.2" text-anchor="middle" letter-spacing="-0.35" >0.10</text>
<line x1="454.9" y1="710.8" x2="454.9" y2="712.8" stroke="#333" stroke-width="1" />
<text x="454.6" y="723.8" font-size="8.2" text-anchor="middle" letter-spacing="-0.35" >0.15</text>
<line x1="479.7" y1="710.8" x2="479.7" y2="712.8" stroke="#333" stroke-width="1" />
<text x="479.4" y="723.8" font-size="8.2" text-anchor="middle" letter-spacing="-0.35" >0.20</text>
<line x1="504.5" y1="710.8" x2="504.5" y2="712.8" stroke="#333" stroke-width="1" />
<text x="504.2" y="723.8" font-size="8.2" text-anchor="middle" letter-spacing="-0.35" >0.25</text>
<line x1="380.6" y1="606.0" x2="380.6" y2="710.8" stroke="#444" stroke-width="0.9" stroke-dasharray="1,1.3"/>
<line x1="331.1" y1="690.6" x2="517.0" y2="690.6" stroke="#444" stroke-width="0.9" stroke-dasharray="1,1.3"/>
<line x1="335.4" y1="711.2" x2="504.2" y2="635.0" stroke="#222" stroke-width="1" />
<line x1="358.8" y1="711.2" x2="495.5" y2="589.7" stroke="#222" stroke-width="1" />
<polyline points="393.0,684.1 405.4,678.9 430.2,666.4 479.7,647.8" fill="none" stroke="#000" stroke-width="1" stroke-linejoin="round" />
<polyline points="393.0,679.3 405.4,668.8 430.2,650.4 479.7,600.9" fill="none" stroke="#444" stroke-width="0.9" stroke-linejoin="round" stroke-dasharray="1,1.3"/>
<circle cx="393.0" cy="684.1" r="2.80" fill="#000"/>
<circle cx="405.4" cy="678.9" r="2.80" fill="#000"/>
<circle cx="430.2" cy="666.4" r="2.80" fill="#000"/>
<circle cx="479.7" cy="647.8" r="2.80" fill="#000"/>
<circle cx="393.0" cy="679.3" r="2.60" fill="#fff" stroke="#000" stroke-width="1"/>
<circle cx="405.4" cy="668.8" r="2.60" fill="#fff" stroke="#000" stroke-width="1"/>
<circle cx="430.2" cy="650.4" r="2.60" fill="#fff" stroke="#000" stroke-width="1"/>
<circle cx="479.7" cy="600.9" r="2.60" fill="#fff" stroke="#000" stroke-width="1"/>
<text x="298.6" y="647.6" font-size="8.2" text-anchor="middle" letter-spacing="0.07" transform="rotate(-90 298.6 647.6)" >1/[Intracellular Chaetocin Concentration]</text>
<text x="419.6" y="736.5" font-size="8.4" text-anchor="middle" letter-spacing="0.08" >1/[Applied Chaetocin Concentration]</text>
<line x1="345.5" y1="587.5" x2="364.6" y2="587.5" stroke="#000" stroke-width="1" />
<circle cx="355.1" cy="587.5" r="2.80" fill="#000"/>
<text x="370.8" y="590.5" font-size="8.4" text-anchor="start" letter-spacing="0.05" style="stroke-width:0.4px">Chaetocin Alone</text>
<line x1="345.5" y1="598.3" x2="364.6" y2="598.3" stroke="#000" stroke-width="1" stroke-dasharray="2,1.5"/>
<circle cx="355.1" cy="598.3" r="2.60" fill="#fff" stroke="#000" stroke-width="1"/>
<text x="370.8" y="601.3" font-size="8.4" text-anchor="start" letter-spacing="0.05" style="stroke-width:0.4px">Chaetocin + 100 µM GSH</text>
</svg>
</body></html>
